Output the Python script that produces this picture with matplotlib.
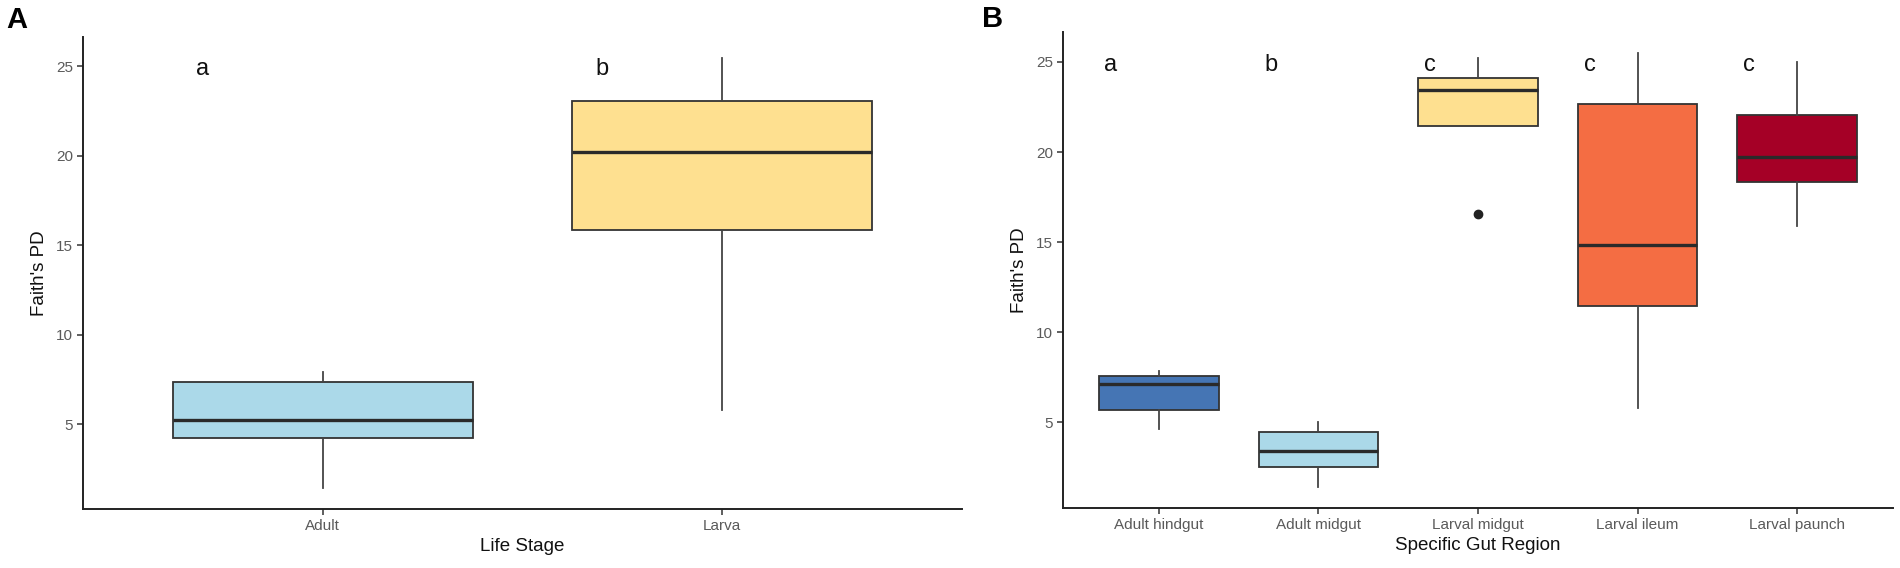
import numpy as np
import matplotlib
matplotlib.use("Agg")
import matplotlib.pyplot as plt

plt.rcParams['font.family'] = ['Liberation Sans', 'DejaVu Sans']

# Panel A: life stage
stage_labels = ['Adult', 'Larva']
stage_whislo = [1.46, 5.80]
stage_q1 = [4.24, 15.85]
stage_med = [5.25, 20.20]
stage_q3 = [7.35, 23.06]
stage_whishi = [7.92, 25.43]
stage_letters = ['a', 'b']
stage_colors = ['#ABD9E9', '#FEE090']

# Panel B: specific gut region
region_labels = ['Adult hindgut', 'Adult midgut', 'Larval midgut', 'Larval ileum', 'Larval paunch']
region_whislo = [4.61, 1.39, 21.45, 5.78, 15.89]
region_q1 = [5.66, 2.55, 21.45, 11.45, 18.36]
region_med = [7.12, 3.43, 23.42, 14.86, 19.73]
region_q3 = [7.56, 4.45, 24.12, 22.67, 22.05]
region_whishi = [7.86, 5.03, 25.22, 25.47, 24.98]
region_fliers = [[], [], [16.58], [], []]
region_letters = ['a', 'b', 'c', 'c', 'c']
region_colors = ['#4575B4', '#ABD9E9', '#FEE090', '#F46D43', '#A50026']

W, H = 1900, 568
fig = plt.figure(figsize=(W / 100, H / 100), dpi=100)


def ax_rect(left, right, top, bottom):
    return [left / W, 1 - bottom / H, (right - left) / W, (bottom - top) / H]


def draw_panel(ax, labels, whislo, q1, med, q3, whishi, fliers, colors, letters,
               xlabel, ylim):
    stats = []
    for i, lab in enumerate(labels):
        stats.append(dict(label=lab, whislo=whislo[i], q1=q1[i], med=med[i],
                          q3=q3[i], whishi=whishi[i],
                          fliers=fliers[i] if fliers else []))
    pos = np.arange(1, len(labels) + 1)
    bp = ax.bxp(stats, positions=pos, widths=0.75, patch_artist=True,
                showcaps=False,
                boxprops=dict(edgecolor='#333333', linewidth=1.3),
                medianprops=dict(color='#2a2a2a', linewidth=2.4),
                whiskerprops=dict(color='#444444', linewidth=1.3),
                flierprops=dict(marker='o', markerfacecolor='#222222',
                                markeredgecolor='#222222', markersize=6))
    for patch, c in zip(bp['boxes'], colors):
        patch.set_facecolor(c)
    # significance letters
    for p, t in zip(pos, letters):
        ax.text(p - 0.3, 24.85, t, fontsize=17, ha='center', va='center',
                color='#111111')
    ax.set_xlim(0.4, len(labels) + 0.6)
    ax.set_ylim(*ylim)
    ax.set_yticks([5, 10, 15, 20, 25])
    ax.set_xticks(pos)
    ax.set_xticklabels(labels)
    for s in ['top', 'right']:
        ax.spines[s].set_visible(False)
    for s in ['left', 'bottom']:
        ax.spines[s].set_linewidth(1.4)
        ax.spines[s].set_color('#222222')
    ax.tick_params(length=4, width=1.1, color='#333333', labelsize=11,
                   labelcolor='#5a5a5a', pad=3)
    ax.set_xlabel(xlabel, fontsize=13.5, labelpad=4, color='#111111')
    ax.set_ylabel("Faith's PD", fontsize=13.5, labelpad=6, color='#111111')


axA = fig.add_axes(ax_rect(83, 962, 37, 509))
draw_panel(axA, stage_labels, stage_whislo, stage_q1, stage_med, stage_q3,
           stage_whishi, None, stage_colors, stage_letters, 'Life Stage',
           (0.26, 26.63))

axB = fig.add_axes(ax_rect(1063, 1893, 32, 508))
draw_panel(axB, region_labels, region_whislo, region_q1, region_med, region_q3,
           region_whishi, region_fliers, region_colors, region_letters,
           'Specific Gut Region', (0.25, 26.66))

fig.text(17 / W, 1 - 20 / H, 'A', fontsize=21, fontweight='bold',
         ha='center', va='center')
fig.text(993 / W, 1 - 19 / H, 'B', fontsize=21, fontweight='bold',
         ha='center', va='center')

fig.savefig('out.png', dpi=100)
